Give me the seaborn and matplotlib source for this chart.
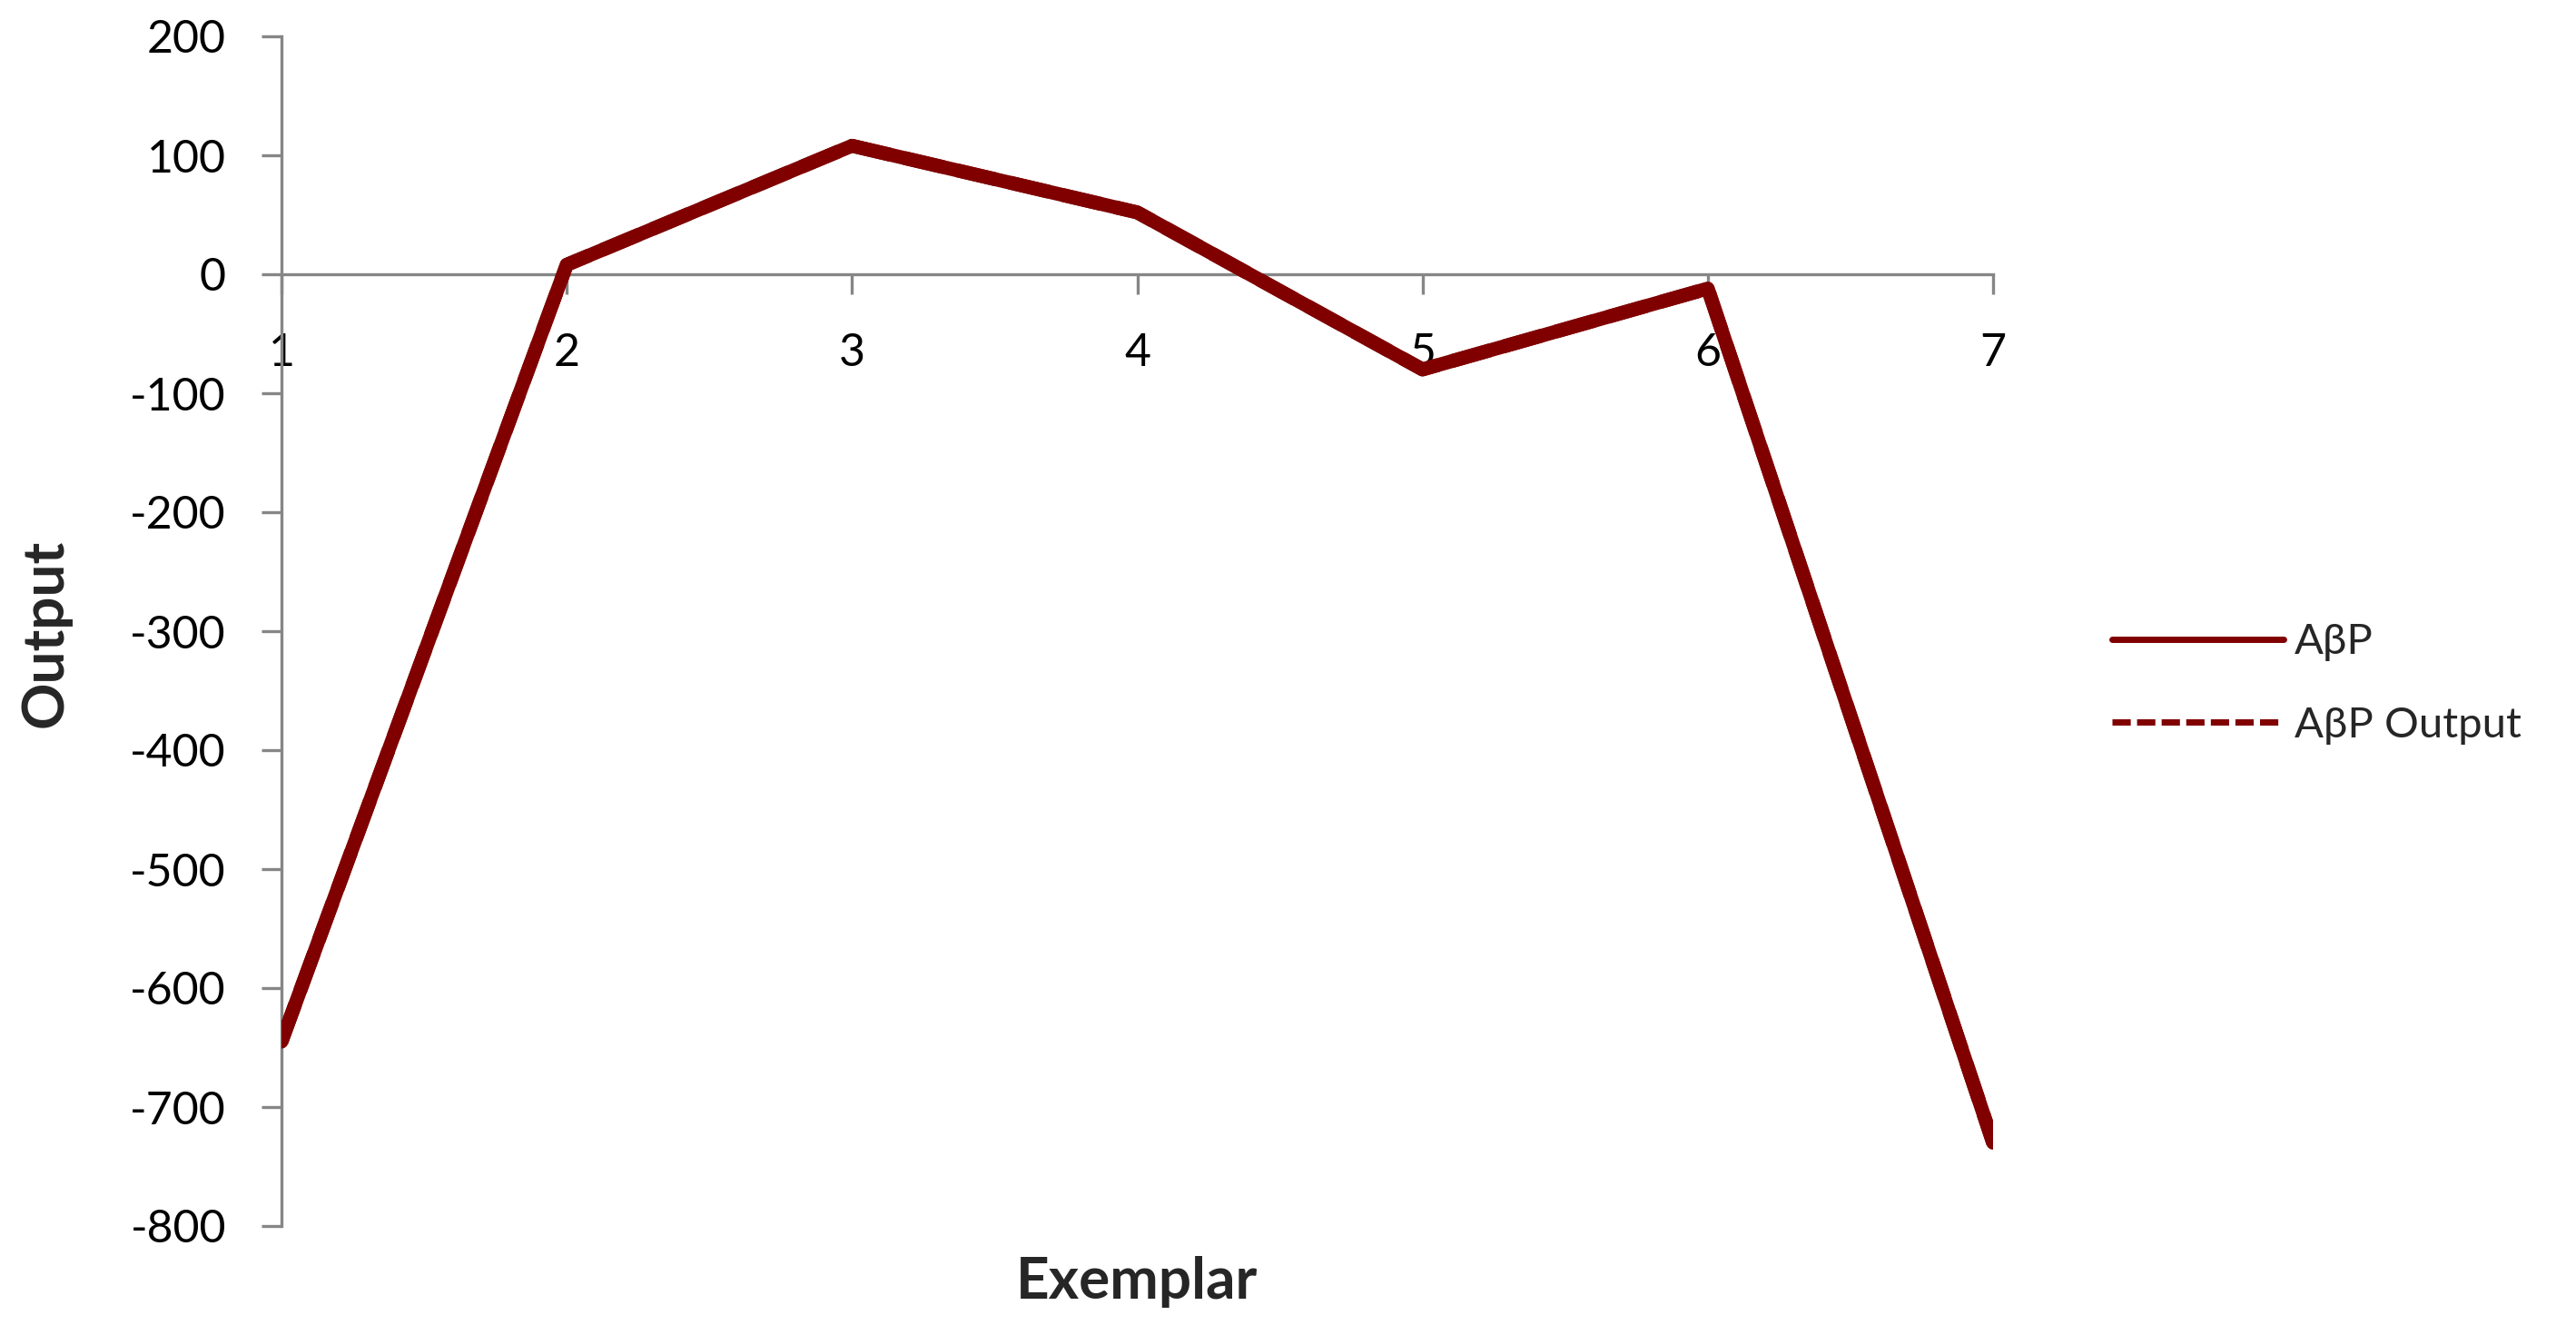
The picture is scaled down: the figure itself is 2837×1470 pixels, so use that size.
import pandas as pd
import seaborn as sns
import matplotlib.pyplot as plt
from matplotlib.lines import Line2D

# Data
exemplar = [1, 2, 3, 4, 5, 6, 7]
abp = [-645, 8, 108, 52, -80, -12, -730]
abp_output = [-645, 8, 108, 52, -80, -12, -730]
y_ticks = [200, 100, 0, -100, -200, -300, -400, -500, -600, -700, -800]

df = pd.concat([
  pd.DataFrame({'Exemplar': exemplar, 'Output': abp_output, 'series': 'AβP Output'}),
  pd.DataFrame({'Exemplar': exemplar, 'Output': abp, 'series': 'AβP'}),
])

sns.set_style('white')
plt.rcParams['font.family'] = ['Lato', 'DejaVu Sans']
plt.rcParams['axes.unicode_minus'] = False

red = '#800000'
grey = '#868686'

fig = plt.figure(figsize=(28.37, 14.70), dpi=100)
ax = fig.add_axes([310/2837, 1 - 1350/1470, (2195-310)/2837, (1350-40)/1470])

sns.lineplot(data=df, x='Exemplar', y='Output', hue='series', style='series',
             palette={'AβP': red, 'AβP Output': red},
             dashes={'AβP': '', 'AβP Output': (2.9, 1.0)},
             linewidth=11, legend=False, ax=ax, zorder=3)

ax.set_xlim(1, 7)
ax.set_ylim(-800, 200)
ax.set_xticks(exemplar)
ax.set_yticks(y_ticks)

# Excel-like axes: y axis on the left, x axis crossing at 0
for s in ['top', 'right']:
  ax.spines[s].set_visible(False)
ax.spines['bottom'].set_position(('data', 0))
for s in ['left', 'bottom']:
  ax.spines[s].set_color(grey)
  ax.spines[s].set_linewidth(2.4)
ax.tick_params(axis='both', bottom=True, left=True, direction='out', length=16,
               width=2.4, color=grey, labelsize=36, labelcolor='black')
ax.tick_params(axis='x', pad=30)
ax.tick_params(axis='y', pad=28)

ax.set_xlabel('')
ax.set_ylabel('')
fig.text(1252/2837, 1 - 1411/1470, 'Exemplar', ha='center', va='center',
         fontsize=46, fontweight='bold')
fig.text(50/2837, 1 - 697/1470, 'Output', ha='center', va='center',
         rotation=90, fontsize=46, fontweight='bold')

handles = [
  Line2D([], [], color=red, lw=5),
  Line2D([], [], color=red, lw=5, dashes=(2.9, 1.0)),
]
fig.legend(handles, ['AβP', 'AβP Output'], loc='center left',
           bbox_to_anchor=(2326/2837, 1 - 753/1470), frameon=False,
           fontsize=34, handlelength=4.0, handletextpad=0.25,
           labelspacing=1.05, borderpad=0, borderaxespad=0)

fig.savefig('out.png', dpi=100)
